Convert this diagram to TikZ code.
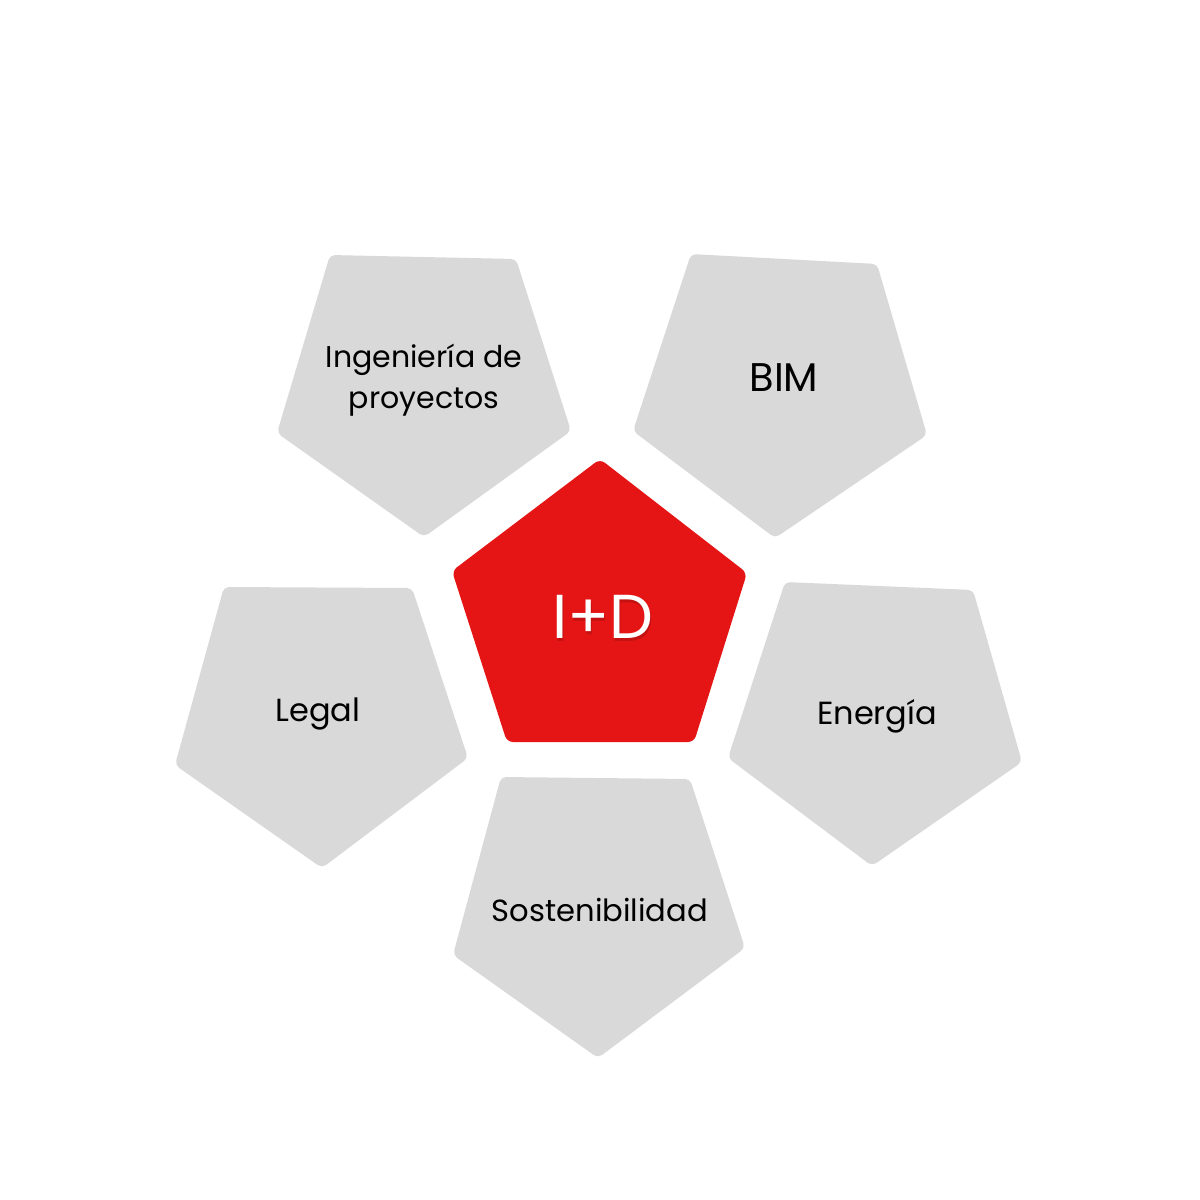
\documentclass[tikz,border=0pt]{standalone}
\usepackage{fontspec}
\setmainfont{Poppins}
\usetikzlibrary{calc}
\definecolor{idred}{HTML}{E51515}
\definecolor{petalgray}{HTML}{D9D9D9}

\begin{document}
\begin{tikzpicture}[x=0.5pt,y=-0.5pt,
  petal/.style={fill=petalgray,rounded corners=2.5pt},
  petaltext/.style={font=\fontsize{15}{20.5}\selectfont,text=black,align=center}]
\fill[white] (0,0) rectangle (1200,1200);
\useasboundingbox (0,0) rectangle (1200,1200);

% outer petals
\fill[petal] (330,255) -- (516,259) -- (571,431) -- (424,537) -- (277,433) -- cycle;
\fill[petal] (691,254) -- (877,264) -- (927,435) -- (775,538) -- (633,431) -- cycle;
\fill[petal] (224,587) -- (412,588) -- (468,758) -- (322,868) -- (175,765) -- cycle;
\fill[petal] (785,582) -- (973,590) -- (1022,762) -- (872,866) -- (728,758) -- cycle;
\fill[petal] (501,777) -- (690,779) -- (745,948) -- (598,1058) -- (453,955) -- cycle;

% centre
\fill[idred,rounded corners=3pt] (600,459) -- (747,573) -- (694,742) -- (507,742) -- (452,571) -- cycle;

\node[petaltext] (ing) at (424,380) {Ingeniería de\\proyectos};
\node[petaltext,font=\fontsize{20}{24}\selectfont] (bim) at (784,378) {BIM};
\node[petaltext,font=\fontsize{16}{20}\selectfont] (legal) at (318,714) {Legal};
\node[petaltext,font=\fontsize{16}{20}\selectfont] (energia) at (877,716) {Energía};
\node[petaltext,font=\fontsize{15.3}{20}\selectfont] (sost) at (600,910) {Sostenibilidad};
\node[text=idred!60!black,opacity=0.35,font=\fontsize{31}{36}\selectfont] (idshadow) at (604,620) {I+D};
\node[text=white,font=\fontsize{31}{36}\selectfont] (id) at (603,617) {I+D};
\end{tikzpicture}
\end{document}
